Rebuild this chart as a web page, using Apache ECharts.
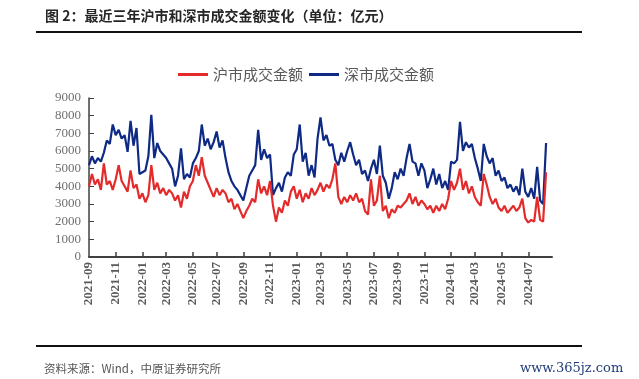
<!DOCTYPE html>
<html><head><meta charset="utf-8">
<script src="https://cdn.jsdelivr.net/npm/echarts@6/dist/echarts.min.js"></script>
<style>html,body{margin:0;padding:0;background:#fff}#c{width:639px;height:379px}</style>
</head><body><div id="c"></div>
<script>
const startDate = '2021-09-03';
const weekCount = 157;
const tickLabels = ['2021-09','2021-11','2022-01','2022-03','2022-05','2022-07','2022-09','2022-11','2023-01','2023-03','2023-05','2023-07','2023-09','2023-11','2024-01','2024-03','2024-05','2024-07'];
const seriesNames = ['沪市成交金额', '深市成交金额'];
// 沪市成交金额 (weekly readings, 亿元)
const shVolume = [
  4000, 4700, 4100, 4400, 3800, 5300, 4100, 4300, 3800, 4400,
  5200, 4300, 4000, 3700, 4900, 3900, 4100, 3300, 3600, 3100,
  3500, 5200, 3800, 4200, 3600, 3900, 3500, 3800, 3600, 3200,
  3500, 2800, 3700, 3300, 4000, 4300, 5200, 4600, 5650, 4600,
  4200, 3800, 3400, 3900, 3500, 3800, 3600, 3100, 3300, 2700,
  3000, 2600, 2200, 2600, 2900, 3300, 3100, 4400, 3600, 4000,
  3500, 4300, 2900, 2000, 2800, 2500, 3200, 2900, 3700, 4000,
  3300, 3800, 3100, 3600, 3300, 3900, 3500, 3800, 4200, 3700,
  4100, 3900, 4400, 5300, 3400, 3000, 3400, 3100, 3500, 3200,
  3600, 3100, 3300, 2600, 2400, 4400, 2900, 3200, 4600, 2600,
  2900, 2200, 2700, 2500, 2900, 2800, 3000, 3200, 3600, 3000,
  3400, 2900, 3200, 3000, 2700, 2900, 2500, 2900, 2600, 3000,
  2700, 3300, 4300, 3800, 4200, 5000, 3800, 4300, 3600, 4000,
  3400, 3100, 2900, 4700, 4100, 3400, 3000, 3300, 2800, 2600,
  2900, 2500, 2700, 2900, 2600, 2800, 3300, 2200, 1950, 2100,
  2000, 3400, 2100, 2000, 4800
];
// 深市成交金额 (weekly readings, 亿元)
const szVolume = [
  5200, 5700, 5300, 5600, 5400, 5900, 6600, 6400, 7500, 6900,
  7200, 6700, 6900, 5950, 7700, 6300, 7300, 4700, 4800, 4900,
  5700, 8050, 5600, 6450, 6000, 5800, 5600, 5300, 5000, 4000,
  4600, 6150, 4400, 4700, 4500, 5300, 5600, 6000, 7500, 6300,
  6700, 6100, 6500, 7100, 6200, 6600, 5600, 4800, 4300, 4000,
  3800, 3500, 3200, 3900, 4600, 4900, 5200, 7200, 5500, 6100,
  5600, 5800, 3500, 3900, 4200, 3700, 4500, 4800, 4600, 5800,
  6100, 7500, 5400, 5900, 4600, 5200, 4500, 6700, 7900, 6600,
  6900, 6300, 6400, 5500, 5200, 5900, 5400, 6000, 6500, 5800,
  5200, 5500, 4700, 4900, 4300, 5000, 5500, 4700, 6300, 4600,
  4200, 3300, 3900, 4800, 4400, 5000, 4600, 5600, 6400, 5400,
  5300, 4600, 5300, 4900, 3900, 4400, 5000, 4100, 4700, 3900,
  4300, 3800, 5400, 5300, 5500, 7650, 6000, 6500, 6200, 6400,
  5600, 5000, 4300, 6400, 5700, 5300, 5600, 4600, 4900, 4300,
  4500, 3900, 4100, 3700, 4000, 3500, 5000, 3700, 3400, 3900,
  3300, 5100, 3200, 3000, 6450
];

const categories = [];
const d0 = new Date(startDate + 'T00:00:00Z');
for (let i = 0; i < weekCount; i++) {
  const d = new Date(d0.getTime() + i * 7 * 86400000);
  categories.push(d.toISOString().slice(0, 10));
}
const shown = new Set();
const seen = {};
categories.forEach((c, i) => {
  const m = c.slice(0, 7);
  if (tickLabels.includes(m) && !(m in seen)) { seen[m] = i; shown.add(i); }
});

const chart = echarts.init(document.getElementById('c'), null, { renderer: 'canvas' });
chart.setOption({
  animation: false,
  backgroundColor: '#fff',
  grid: { left: 89, right: 87, top: 98, bottom: 122 },
  legend: {
    data: seriesNames,
    left: 173, top: 62,
    icon: 'rect', itemWidth: 30, itemHeight: 3, itemGap: 6,
    textStyle: { fontSize: 15, color: '#595959', fontFamily: '"Noto Sans CJK SC"' }
  },
  xAxis: {
    type: 'category',
    data: categories,
    boundaryGap: false,
    axisLine: { lineStyle: { color: '#404040', width: 2 } },
    axisTick: { inside: true, length: 5, interval: (i) => shown.has(i) && i > 0, lineStyle: { color: '#404040', width: 1.5 } },
    axisLabel: {
      interval: (i) => shown.has(i),
      formatter: (v) => v.slice(0, 7),
      rotate: 90, margin: 5,
      fontFamily: '"Liberation Serif"', fontSize: 13, fontWeight: 'bold', color: '#595959'
    },
    splitLine: { show: false }
  },
  yAxis: {
    type: 'value', min: 0, max: 9000, interval: 1000,
    axisLine: { show: true, lineStyle: { color: '#404040', width: 1.5 } },
    axisTick: { show: true, inside: true, length: 5, lineStyle: { color: '#404040' } },
    axisLabel: { formatter: (v) => String(v), fontFamily: '"Liberation Serif"', fontSize: 13, color: '#707070', margin: 8 },
    splitLine: { show: false }
  },
  series: [
    { name: seriesNames[0], type: 'line', data: shVolume, symbol: 'none', z: 3,
      itemStyle: { color: '#E42B2B' }, lineStyle: { color: '#E42B2B', width: 2.2 } },
    { name: seriesNames[1], type: 'line', data: szVolume, symbol: 'none', z: 2,
      itemStyle: { color: '#0E2A84' }, lineStyle: { color: '#0E2A84', width: 2.2 } }
  ],
  graphic: [
    { type: 'text', left: 45, top: 9, style: { text: '图 2：最近三年沪市和深市成交金额变化（单位：亿元）', font: 'bold 14px "Noto Sans CJK SC"', fill: '#262626' } },
    { type: 'rect', left: 36, top: 31, shape: { width: 546, height: 2 }, style: { fill: '#111' } },
    { type: 'rect', left: 36, top: 345, shape: { width: 546, height: 2 }, style: { fill: '#111' } },
    { type: 'text', left: 44, top: 363, style: { text: '资料来源：Wind，中原证券研究所', font: '11.5px "Noto Sans CJK SC"', fill: '#555' } },
    { type: 'text', left: 520, top: 362, style: { text: 'www.365jz.com', font: '13px "DejaVu Serif"', fill: '#1F3A78' } }
  ]
});
</script>
</body></html>
